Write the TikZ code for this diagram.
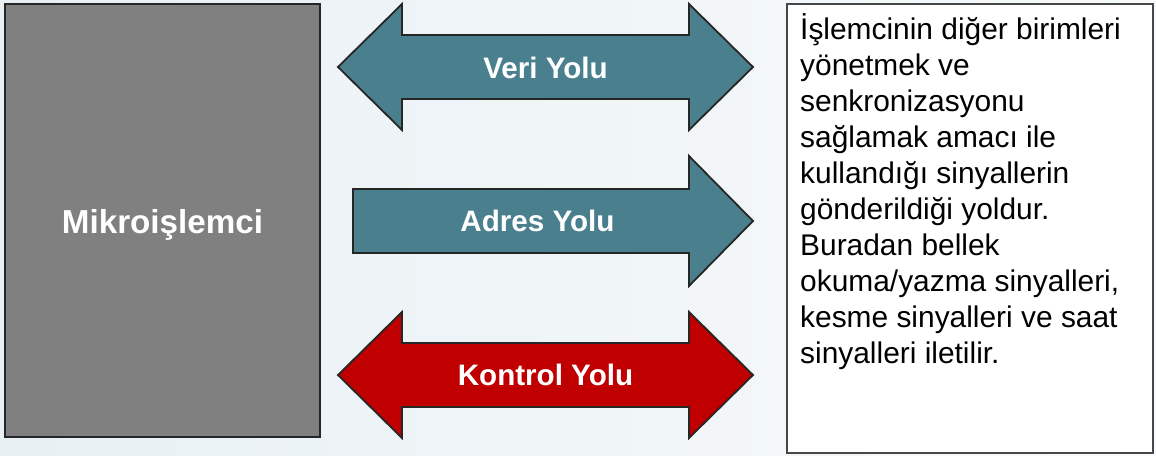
\documentclass[tikz,border=0pt]{standalone}
\usepackage{fontspec}
\setmainfont{Liberation Sans}
\definecolor{teal}{HTML}{4A7F8E}
\definecolor{darkred}{HTML}{C00000}
\definecolor{boxgray}{HTML}{808080}
\definecolor{edge}{HTML}{262626}
\definecolor{bgleft}{HTML}{E8F0F4}
\definecolor{bgright}{HTML}{F8FAFB}
\begin{document}
\begin{tikzpicture}[x=1pt,y=-1pt,
  shapeline/.style={draw=edge,line width=1.8pt,line join=miter},
  arrowlabel/.style={text=white,font=\fontsize{29.6}{35}\selectfont\bfseries,inner sep=0pt,anchor=base}]
\useasboundingbox (0,0) rectangle (1156,455);
\shade[left color=bgleft,right color=bgright] (0,0) rectangle (1156,455);
% Mikroislemci box
\draw[shapeline,fill=boxgray] (5,4) rectangle (320,437);
\node[text=white,font=\fontsize{33.2}{39}\selectfont\bfseries,inner sep=0pt,anchor=base] (mikro) at (162.5,233) {Mikroişlemci};
% Veri Yolu double arrow
\draw[shapeline,fill=teal] (338,67) -- (402,4) -- (402,35) -- (689,35) -- (689,4) -- (753,67) -- (689,130) -- (689,99) -- (402,99) -- (402,130) -- cycle;
\node[arrowlabel] (veri) at (545.5,78) {Veri Yolu};
% Adres Yolu single arrow
\draw[shapeline,fill=teal] (353,189) -- (689,189) -- (689,156) -- (753,221) -- (689,286) -- (689,253) -- (353,253) -- cycle;
\node[arrowlabel] (adres) at (537.5,231) {Adres Yolu};
% Kontrol Yolu double arrow
\draw[shapeline,fill=darkred] (338,375) -- (402,312) -- (402,343) -- (689,343) -- (689,312) -- (753,375) -- (689,438) -- (689,407) -- (402,407) -- (402,438) -- cycle;
\node[arrowlabel] (kontrol) at (545.5,385) {Kontrol Yolu};
% Description box
\draw[draw=edge!85,line width=1.6pt,fill=white] (787,4) rectangle (1153,453);
\node[anchor=base west,inner sep=0pt] (desc) at (800,39.5) {\parbox[t]{350pt}{\raggedright\fontsize{29.9}{36}\selectfont
İşlemcinin diğer birimleri\\
yönetmek ve\\
senkronizasyonu\\
sağlamak amacı ile\\
kullandığı sinyallerin\\
gönderildiği yoldur.\\
Buradan bellek\\
okuma/yazma sinyalleri,\\
kesme sinyalleri ve saat\\
sinyalleri iletilir.}};
\end{tikzpicture}
\end{document}
